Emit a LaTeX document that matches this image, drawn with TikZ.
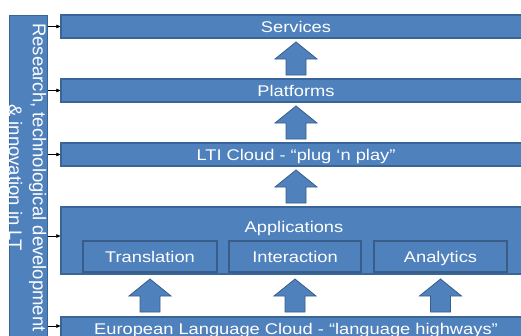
\documentclass[tikz,border=0pt]{standalone}
\usepackage{fontspec}
\setmainfont{Liberation Sans}
\newfontfamily\barfont[FakeStretch=1.18]{Liberation Sans}
\usetikzlibrary{arrows.meta,calc}
\definecolor{boxfill}{HTML}{4F81BD}
\definecolor{boxline}{HTML}{3A6597}
\definecolor{subline}{HTML}{385D8A}

\begin{document}
\begin{tikzpicture}[x=1pt,y=-1pt,
  bar/.style={draw=boxline, line width=1.2pt, fill=boxfill, text=white,
    inner sep=0pt, minimum width=470pt, minimum height=23pt,
    text height=11.2pt, text depth=0pt,
    font=\barfont\fontsize{15.5}{18}\selectfont},
  subbox/.style={bar, draw=subline, minimum height=31pt},
  caption/.style={text=white, inner sep=0pt, text height=11.2pt, text depth=0pt,
    font=\barfont\fontsize{15.5}{18}\selectfont},
  link/.style={draw=black, line width=0.6pt, -{Triangle[length=4pt,width=3.6pt]}},
  blockarrow/.style={draw=subline, line width=0.8pt, fill=boxfill},
  uparrow/.pic={\draw[blockarrow] (0,-16.5) -- (21,0.5) -- (10,0.5) -- (10,16.5)
    -- (-10,16.5) -- (-10,0.5) -- (-21,0.5) -- cycle;}
]
\useasboundingbox (0,0) rectangle (521,335);
\clip (0,0) rectangle (521,335);

% left column: research and development
\node[draw=boxline, line width=1.2pt, fill=boxfill, inner sep=0pt,
      minimum width=38pt, minimum height=340pt, anchor=north west] (rd) at (9,15) {};
\node[rotate=-90, anchor=north, align=center, text=white, inner sep=0pt,
      font=\fontsize{18.5}{24}\selectfont] (rdtext) at (46.5,177.5)
      {Research, technological development\\ \& innovation in LT};

% layered stack
\node[bar] (services)  at (296,26.5)  {Services};
\node[bar] (platforms) at (296,90.5)  {Platforms};
\node[bar] (lti)       at (296,154.5) {LTI Cloud - “plug ‘n play”};
\node[bar, minimum height=67pt] (apps) at (296,240.5) {};
\node[caption] (appslabel) at (294,227) {Applications};
\node[subbox, minimum width=134pt] (trans) at (150,256.5)   {Translation};
\node[subbox, minimum width=132pt] (inter) at (295,256.5)   {Interaction};
\node[subbox, minimum width=133pt] (analy) at (440.5,256.5) {Analytics};
\node[bar] (euro) at (296,328.5) {European Language Cloud - “language highways”};

% block arrows between layers
\pic at ($(services.south)!0.5!(platforms.north)$) {uparrow};
\pic at ($(platforms.south)!0.5!(lti.north)$) {uparrow};
\pic at ($(lti.south)!0.5!(apps.north)$) {uparrow};
\pic at ($(trans.south |- apps.south)!0.5!(trans.south |- euro.north)$) {uparrow};
\pic at ($(inter.south |- apps.south)!0.5!(inter.south |- euro.north)$) {uparrow};
\pic at ($(analy.south |- apps.south)!0.5!(analy.south |- euro.north)$) {uparrow};

% feeds from the research column into each layer
\coordinate (appsin) at ($(apps.west)+(0,-4.5)$);
\coordinate (euroin) at ($(euro.west)+(0,-2.5)$);
\draw[link] (rd.east |- services.west)  -- (services.west);
\draw[link] (rd.east |- platforms.west) -- (platforms.west);
\draw[link] (rd.east |- lti.west)       -- (lti.west);
\draw[link] (rd.east |- appsin)         -- (appsin);
\draw[link] (rd.east |- euroin)         -- (euroin);
\end{tikzpicture}
\end{document}
